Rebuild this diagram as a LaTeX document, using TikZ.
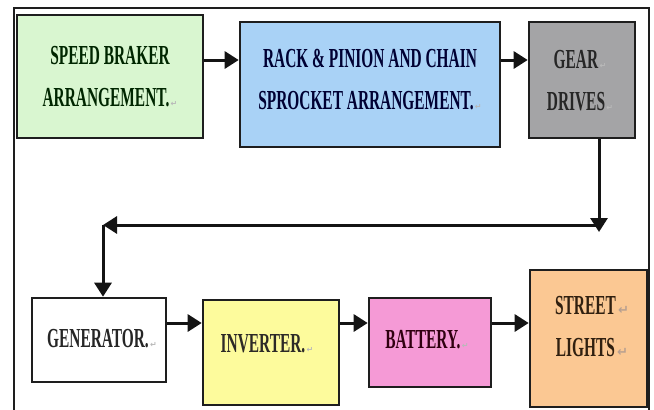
\documentclass[tikz,border=0pt]{standalone}
\usepackage{fontspec}
\usetikzlibrary{arrows.meta}
\newfontfamily\bx{Liberation Serif}[FakeStretch=0.56]
\newfontfamily\dv{DejaVu Sans}
\definecolor{speedfill}{HTML}{D9F6D0}
\definecolor{rackfill}{HTML}{A9D2F6}
\definecolor{gearfill}{HTML}{A4A4A6}
\definecolor{invfill}{HTML}{FDFB9C}
\definecolor{batfill}{HTML}{F59AD6}
\definecolor{streetfill}{HTML}{FBC893}
\definecolor{boxline}{HTML}{1E1E1E}
\definecolor{arrcol}{HTML}{141414}
\definecolor{mkcol}{HTML}{B8A090}
\newcommand\parmk{{\dv\fontsize{8}{8}\selectfont\color{gray!55}\,↵}}
\newcommand\bigmk{{\dv\fontsize{13}{13}\selectfont\color{mkcol}\,↵}}
\begin{document}
\begin{tikzpicture}[x=1pt,y=-1pt,
  box/.style={draw=boxline, line width=2.6pt, inner sep=0pt},
  txt/.style={align=center, inner sep=0pt, font=\bx\bfseries\fontsize{27.5}{42}\selectfont},
  arr/.style={line width=3pt, draw=arrcol, -{Triangle[length=14pt,width=17pt]}}]
\fill[white] (0,0) rectangle (654,410);
\useasboundingbox (0,0) rectangle (654,410);
% outer frame
\draw[line width=1.8pt, boxline] (14,410) -- (14,8) -- (649,8) -- (649,410);
% boxes
\node[box, fill=speedfill,  minimum width=186pt, minimum height=123pt] (speed)  at (110,76.5) {};
\node[box, fill=rackfill,   minimum width=260pt, minimum height=125pt] (rack)   at (370,84.5) {};
\node[box, fill=gearfill,   minimum width=106pt, minimum height=116pt] (gear)   at (582,80) {};
\node[box, fill=white,      minimum width=134pt, minimum height=84pt]  (gen)    at (99,340) {};
\node[box, fill=invfill,    minimum width=136pt, minimum height=105pt] (inv)    at (271,352.5) {};
\node[box, fill=batfill,    minimum width=122pt, minimum height=89pt]  (bat)    at (430,342.5) {};
\node[box, fill=streetfill, minimum width=117pt, minimum height=137pt] (street) at (588.5,338.5) {};
% texts
\node[txt, text=black!85!green] (speedt) at (110,77) {SPEED BRAKER\\ARRANGEMENT.\parmk};
\node[txt, text=black!80!blue] (rackt) at (370,80) {RACK \& PINION AND CHAIN\\SPROCKET ARRANGEMENT.\parmk};
\node[txt, text=black!85] (geart) at (580,81) {GEAR\parmk\\DRIVES\parmk};
\node[txt, text=black!85] (gent) at (102,339) {GENERATOR.\parmk};
\node[txt, text=black!90!olive] (invt) at (267,344) {INVERTER.\parmk};
\node[txt, text=black!75!purple] (batt) at (427,340) {BATTERY.\parmk};
\node[txt, text=black!75!brown] (streett) at (592,327) {STREET\bigmk\\LIGHTS\bigmk};
% connectors
\coordinate (ta) at (0,60);
\coordinate (ba) at (0,323);
\coordinate (c1) at (599,232);
\coordinate (c2) at (103,225);
\draw[arr] (speed.east |- ta) -- (rack.west |- ta);
\draw[arr] (rack.east |- ta) -- (gear.west |- ta);
\draw[arr] (gear.south -| c1) -- (c1);
\draw[arr] (c1 |- c2) -- (c2);
\draw[arr] (c2) -- (c2 |- gen.north);
\draw[arr] (gen.east |- ba) -- (inv.west |- ba);
\draw[arr] (inv.east |- ba) -- (bat.west |- ba);
\draw[arr] (bat.east |- ba) -- (street.west |- ba);
\end{tikzpicture}
\end{document}
